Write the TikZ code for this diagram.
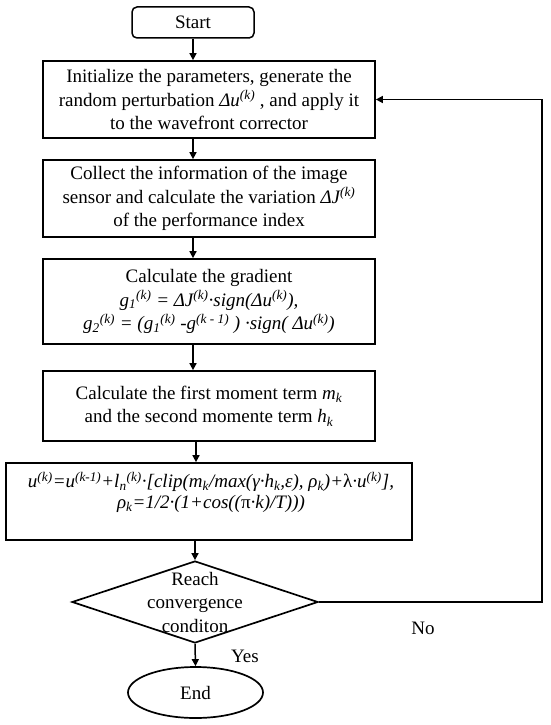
\documentclass[tikz,border=0pt]{standalone}
\usepackage{fontspec}
\setmainfont{Liberation Serif}
\usetikzlibrary{arrows.meta,shapes.geometric}
\begin{document}
\begin{tikzpicture}[x=1pt,y=-1pt,
  every node/.style={font=\fontsize{19}{23.5}\selectfont, inner sep=0pt},
  procbox/.style={draw, line width=1.7pt, minimum width=332pt, align=center},
  arr/.style={line width=1.5pt, -{Triangle[length=7pt,width=7pt]}},
  conn/.style={line width=1.5pt}]
\useasboundingbox (0,0) rectangle (550,725);
\node[draw, line width=1.5pt, rounded corners=5pt, minimum width=122pt, minimum height=31pt] (st) at (193,22.5) {Start};
\node[procbox, minimum height=77pt] (b1) at (209,99.5) {Initialize the parameters, generate the\\ random perturbation \textit{Δu\textsuperscript{(k)}} , and apply it\\ to the wavefront corrector};
\node[procbox, minimum height=77pt] (b2) at (209,198.5) {Collect the information of the image\\ sensor and calculate the variation \textit{ΔJ\textsuperscript{(k)}}\\ of the performance index};
\node[procbox, minimum height=85pt] (b3) at (209,301.5) {Calculate the gradient\\ \textit{g\textsubscript{1}\textsuperscript{(k)} = ΔJ\textsuperscript{(k)}·sign(Δu\textsuperscript{(k)}),}\\ \textit{g\textsubscript{2}\textsuperscript{(k)} = (g\textsubscript{1}\textsuperscript{(k)} -g\textsuperscript{(k - 1)} ) ·sign( Δu\textsuperscript{(k)})}};
\node[procbox, minimum height=70pt] (b4) at (209,406) {Calculate the first moment term \textit{m\textsubscript{k}}\\ and the second momente term \textit{h\textsubscript{k}}};
\node[procbox, minimum width=406pt, minimum height=77pt] (b5) at (209,501.5) {};
\node[align=center, anchor=north, font=\fontsize{19}{21}\selectfont] (t5) at (211,472) {\itshape u\textsuperscript{(k)}=u\textsuperscript{(k-1)}+l\textsubscript{n}\textsuperscript{(k)}·[clip(m\textsubscript{k}/max(γ·h\textsubscript{k},ε), ρ\textsubscript{k})+{\upshape λ}·u\textsuperscript{(k)}],\\ \itshape ρ\textsubscript{k}=1/2·(1+cos(({\upshape π}·k)/T)))};
\node[diamond, draw, line width=1.7pt, minimum width=246pt, minimum height=82pt] (dia) at (195,602) {};
\node[align=center] (tdia) at (195,602) {Reach\\ convergence\\ conditon};
\node[ellipse, draw, line width=1.7pt, minimum width=135pt, minimum height=51pt] (end) at (195.5,692.5) {End};
\node (no) at (423,628) {No};
\node (yes) at (245,656) {Yes};
\coordinate (cx) at (193,0);
\coordinate (dx) at (195,0);
\coordinate (fb) at (542,602);
\draw[arr] (st.south) -- (st.south |- b1.north);
\draw[arr] (cx |- b1.south) -- (cx |- b2.north);
\draw[arr] (cx |- b2.south) -- (cx |- b3.north);
\draw[arr] (cx |- b3.south) -- (cx |- b4.north);
\draw[arr] (196,0 |- b4.south) -- (196,0 |- b5.north);
\draw[arr] (dx |- b5.south) -- (dia.north);
\draw[arr] (dia.south) -- (end.north);
\draw[arr] (dia.east) -- (fb) |- (b1.east);
\end{tikzpicture}
\end{document}
